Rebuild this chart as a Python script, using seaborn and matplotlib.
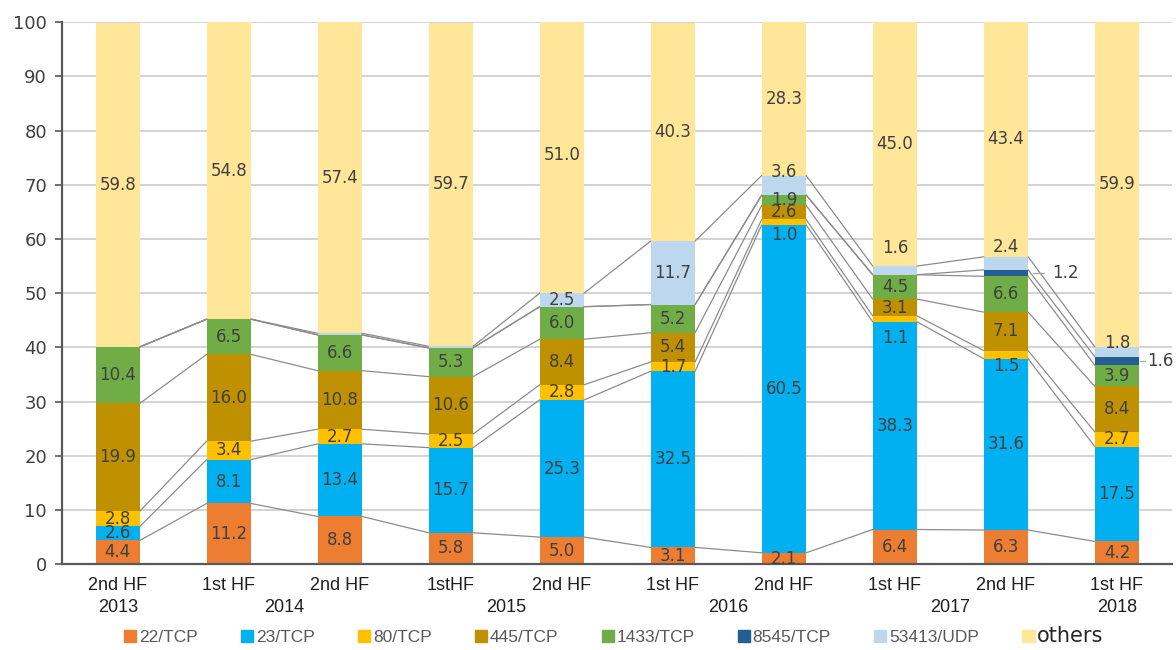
import numpy as np
import pandas as pd
import matplotlib
matplotlib.use("Agg")
import matplotlib.pyplot as plt
import seaborn as sns

# data (share of traffic, %)
periods = ["2nd HF", "1st HF", "2nd HF", "1stHF", "2nd HF",
           "1st HF", "2nd HF", "1st HF", "2nd HF", "1st HF"]
years = ["2013", "2014", "2015", "2016", "2017", "2018"]
year_pos = [0, 1.5, 3.5, 5.5, 7.5, 9]

series = ["22/TCP", "23/TCP", "80/TCP", "445/TCP", "1433/TCP",
          "8545/TCP", "53413/UDP", "others"]
tcp22 = [4.4, 11.2, 8.8, 5.8, 5.0, 3.1, 2.1, 6.4, 6.3, 4.2]
tcp23 = [2.6, 8.1, 13.4, 15.7, 25.3, 32.5, 60.5, 38.3, 31.6, 17.5]
tcp80 = [2.8, 3.4, 2.7, 2.5, 2.8, 1.7, 1.0, 1.1, 1.5, 2.7]
tcp445 = [19.9, 16.0, 10.8, 10.6, 8.4, 5.4, 2.6, 3.1, 7.1, 8.4]
tcp1433 = [10.4, 6.5, 6.6, 5.3, 6.0, 5.2, 1.9, 4.5, 6.6, 3.9]
tcp8545 = [0, 0, 0, 0, 0, 0, 0, 0, 1.2, 1.6]
udp53413 = [0, 0, 0.3, 0.3, 2.5, 11.7, 3.6, 1.6, 2.4, 1.8]
others = [59.8, 54.8, 57.4, 59.7, 51.0, 40.3, 28.3, 45.0, 43.4, 59.9]

colors = ["#ED7D31", "#00B0F0", "#FFC000", "#BF9000", "#70AD47",
          "#255E91", "#BDD7EE", "#FFE699"]

# a few labels sit off-centre in the original (value units)
label_shift = {("80/TCP", 6): -2.4, ("80/TCP", 7): -3.5, ("80/TCP", 8): -2.0,
               ("53413/UDP", 6): 2.4, ("53413/UDP", 7): 4.1,
               ("53413/UDP", 8): 3.0, ("53413/UDP", 9): 1.6}
# labels pulled out to the right of the bar: (leader start, leader end, text)
side_labels = {("8545/TCP", 8): (0.24, 0.34, 0.42),
               ("8545/TCP", 9): (0.21, 0.255, 0.27)}

values = pd.DataFrame(
    dict(zip(series, [tcp22, tcp23, tcp80, tcp445, tcp1433,
                      tcp8545, udp53413, others])))
values["slot"] = [f"{p}_{i}" for i, p in enumerate(periods)]
cum = values[series].cumsum(axis=1)

sns.set_style("white")
plt.rcParams["font.family"] = ["DejaVu Sans"]
narrow = ["Liberation Sans Narrow", "Liberation Sans", "DejaVu Sans"]

fig = plt.figure(figsize=(11.76, 6.5), dpi=100)
ax = fig.add_axes([0.053, 0.132, 0.944, 0.834])

bar_w = 0.4
# stacked bars: draw the running totals from the top down
for name, col in reversed(list(zip(series, colors))):
    sns.barplot(x=values["slot"], y=cum[name], color=col, width=bar_w,
                linewidth=0, saturation=1, ax=ax, zorder=2)

# series lines between neighbouring bars
n = len(periods)
for name in series[:-1]:
    tops = cum[name].values
    for j in range(n - 1):
        ax.plot([j + bar_w / 2, j + 1 - bar_w / 2], [tops[j], tops[j + 1]],
                color="#8C8C8C", lw=0.9, zorder=3)

# value labels
for name in series:
    seg = values[name].values
    tops = cum[name].values
    for j in range(n):
        v = seg[j]
        if v < 0.5:
            continue
        if (name, j) in side_labels:
            x0, x1, xt = side_labels[(name, j)]
            y = tops[j] - v / 2
            ax.plot([j + x0, j + x1], [y, y], color="#A6A6A6", lw=0.9,
                    zorder=3, clip_on=False)
            ax.text(j + xt, y, f"{v:.1f}", ha="left", va="center",
                    fontsize=12, color="#404040", zorder=4)
            continue
        y = tops[j] - v / 2 + label_shift.get((name, j), 0)
        ax.text(j, y, f"{v:.1f}", ha="center", va="center", fontsize=12,
                color="#404040", zorder=4)

ax.set_xlim(-0.5, n - 0.5)
ax.set_ylim(0, 100)
ax.set_yticks(range(0, 101, 10))
ax.yaxis.grid(True, color="#CCCCCC", lw=1.2, zorder=0)
ax.set_axisbelow(True)
ax.set_xlabel("")
ax.set_ylabel("")
ax.tick_params(axis="y", labelsize=13, labelcolor="#404040", length=5,
               width=1.2, color="#595959", left=True, pad=6)
ax.set_xticks(range(n))
ax.set_xticklabels(periods, family=narrow, fontsize=13, color="#1F1F1F")
ax.tick_params(axis="x", length=0, pad=9)
ax.set_xticks(np.arange(0.5, n - 0.5, 1), minor=True)
ax.tick_params(axis="x", which="minor", length=3, color="#595959", width=1)
for yr, xp in zip(years, year_pos):
    ax.text(xp, -7.9, yr, ha="center", va="center", family=narrow,
            fontsize=13, color="#1F1F1F")

for side in ["top", "right"]:
    ax.spines[side].set_visible(False)
for side in ["left", "bottom"]:
    ax.spines[side].set_color("#595959")
    ax.spines[side].set_linewidth(1.6)

handles = [plt.Rectangle((0, 0), 1, 1, color=c) for c in colors]
leg = fig.legend(handles, series, loc="lower center", ncol=8,
                 bbox_to_anchor=(0.522, -0.018), frameon=False,
                 handlelength=0.7, handleheight=0.7, handletextpad=0.15,
                 columnspacing=2.5, prop={"family": narrow, "size": 12.5})
for t in leg.get_texts():
    t.set_color("#595959")
leg.get_texts()[-1].set_fontfamily("DejaVu Sans")
leg.get_texts()[-1].set_fontsize(15)
leg.get_texts()[-1].set_color("#262626")

fig.savefig("out.png", dpi=100)
